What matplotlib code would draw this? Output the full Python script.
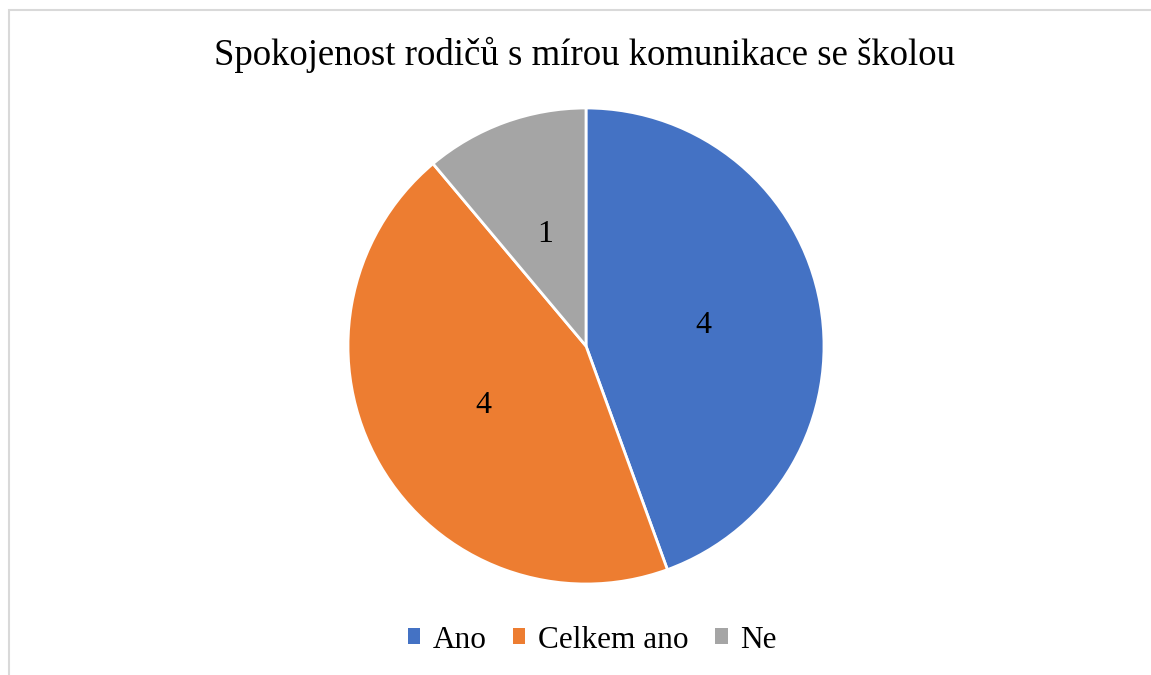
import matplotlib.pyplot as plt
from matplotlib.patches import Rectangle, Patch

# Data
labels = ['Ano', 'Celkem ano', 'Ne']
values = [4, 4, 1]
colors = ['#4472C4', '#ED7D31', '#A5A5A5']
title = 'Spokojenost rodičů s mírou komunikace se školou'

plt.rcParams['font.family'] = ['Liberation Serif', 'DejaVu Serif']

W, H = 1151, 675
fig = plt.figure(figsize=(W / 100, H / 100), dpi=100)

# light grey chart frame (only left/top edges visible)
fig.patches.append(Rectangle((9 / W, -0.1), 1.5, (H - 10) / H + 0.1,
                             transform=fig.transFigure, fill=False,
                             edgecolor='#D9D9D9', linewidth=1.5))

cx, cy, r = 586, 346, 238
ax = fig.add_axes([(cx - r) / W, (H - cy - r) / H, 2 * r / W, 2 * r / H])

wedges, texts, autotexts = ax.pie(
    values, colors=colors, startangle=90, counterclock=False,
    autopct=lambda p: '{:.0f}'.format(p * sum(values) / 100),
    pctdistance=0.5, wedgeprops=dict(edgecolor='white', linewidth=2),
    textprops=dict(fontsize=23, color='black'))
ax.set_xlim(-1, 1)
ax.set_ylim(-1, 1)
ax.set_aspect('equal')

fig.text(585 / W, (H - 55) / H, title, ha='center', va='center', fontsize=26.5)

handles = [Patch(facecolor=c, label=l) for c, l in zip(colors, labels)]
fig.legend(handles=handles, loc='center', bbox_to_anchor=(592 / W, (H - 640) / H),
           ncol=3, frameon=False, fontsize=22.5, handlelength=0.4,
           handleheight=0.4, handletextpad=0.4, columnspacing=0.85)

fig.savefig('out.png', dpi=100)
